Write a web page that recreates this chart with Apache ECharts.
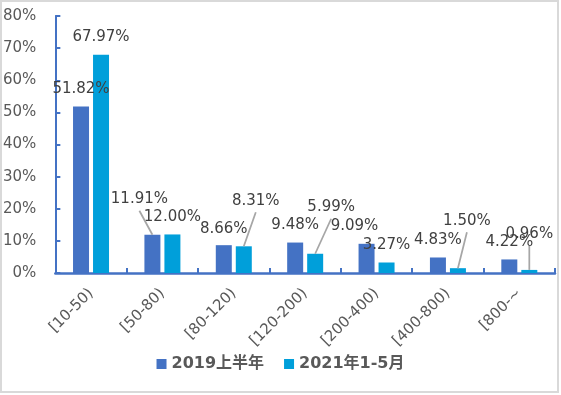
<!DOCTYPE html>
<html>
<head>
<meta charset="utf-8">
<script src="https://cdn.jsdelivr.net/npm/echarts@6/dist/echarts.min.js"></script>
<style>
html,body{margin:0;padding:0;background:#fff;}
#c{width:561px;height:395px;}
</style>
</head>
<body>
<div id="c"></div>
<script>
var categories = ['[10-50)', '[50-80)', '[80-120)', '[120-200)', '[200-400)', '[400-800)', '[800-~'];
var seriesNames = ['2019上半年', '2021年1-5月'];
var values2019 = [51.82, 11.91, 8.66, 9.48, 9.09, 4.83, 4.22];
var values2021 = [67.97, 12.00, 8.31, 5.99, 3.27, 1.50, 0.96];
var yTicks = {min: 0, max: 80, interval: 10};

// label nudges (pixels) [dx, dy] per data index, and which labels get a leader line
var labelMove = [
  [[0,0],[-13,-18],[0,1],[0,0],[-12,0],[0,0],[0,0]],
  [[0,0],[0,0],[12,-28],[16,-29],[0,0],[9,-30],[0,-18]]
];
var leader = [
  [false,true,false,false,false,false,false],
  [false,false,true,true,false,true,true]
];

var FONT = 'DejaVu Sans, Noto Sans CJK SC, sans-serif';
var colors = ['#4472C4', '#009FDA'];
var BAR_W = 16, BAR_GAP = 4, LABEL_DIST = 10;

function mkSeries(si, vals) {
  return {
    name: seriesNames[si],
    type: 'bar',
    barWidth: BAR_W,
    barGap: (BAR_GAP / BAR_W * 100) + '%',
    itemStyle: {color: colors[si]},
    data: vals,
    z: 2,
    label: {
      show: true,
      position: 'top',
      distance: LABEL_DIST,
      color: '#404040',
      fontSize: 15,
      fontFamily: FONT,
      formatter: function (p) { return p.value.toFixed(2) + '%'; }
    },
    labelLayout: function (p) {
      var m = labelMove[si][p.dataIndex];
      return {dx: m[0], dy: m[1]};
    }
  };
}

// leader line data: derived from values + label nudges
var leaderData = [];
[values2019, values2021].forEach(function (vals, si) {
  vals.forEach(function (v, i) {
    if (leader[si][i]) leaderData.push([i, v, si, labelMove[si][i][0], labelMove[si][i][1]]);
  });
});

var chart = echarts.init(document.getElementById('c'));
chart.setOption({
  animation: false,
  color: colors,
  grid: {left: 55, right: 6, top: 16, bottom: 122, containLabel: false},
  graphic: [{
    type: 'rect', silent: true,
    shape: {x: 1, y: 1, width: 557, height: 391},
    style: {fill: 'none', stroke: '#D9D9D9', lineWidth: 2}
  }],
  legend: {
    bottom: 18,
    left: 'center',
    itemWidth: 10,
    itemHeight: 10,
    itemGap: 20,
    icon: 'rect',
    textStyle: {color: '#595959', fontSize: 16, fontWeight: 'bold', fontFamily: FONT},
    data: seriesNames
  },
  xAxis: {
    type: 'category',
    data: categories,
    boundaryGap: true,
    axisLine: {lineStyle: {color: '#4472C4', width: 2.5}},
    axisTick: {show: true, inside: true, length: 5, lineStyle: {color: '#4472C4', width: 2}},
    axisLabel: {rotate: 45, margin: 18, color: '#595959', fontSize: 15, fontFamily: FONT, interval: 0},
    splitLine: {show: false}
  },
  yAxis: {
    type: 'value',
    min: yTicks.min, max: yTicks.max, interval: yTicks.interval,
    axisLine: {show: true, lineStyle: {color: '#4472C4', width: 2}},
    axisTick: {show: true, inside: true, length: 5, lineStyle: {color: '#4472C4', width: 2}},
    axisLabel: {formatter: '{value}%', color: '#595959', fontSize: 15, fontFamily: FONT, margin: 19},
    splitLine: {show: false}
  },
  series: [
    mkSeries(0, values2019),
    mkSeries(1, values2021),
    {
      type: 'custom',
      silent: true,
      z: 3,
      data: leaderData,
      encode: {x: 0, y: 1},
      renderItem: function (params, api) {
        var p = api.coord([api.value(0), api.value(1)]);
        var si = api.value(2);
        var off = (si === 0 ? -1 : 1) * (BAR_W + BAR_GAP) / 2;
        var x1 = p[0] + off, y1 = p[1];
        var x0 = x1 + api.value(3), y0 = y1 - LABEL_DIST + api.value(4) + 4;
        return {
          type: 'line',
          shape: {x1: x0, y1: y0, x2: x1, y2: y1},
          style: {stroke: '#A6A6A6', lineWidth: 1.75}
        };
      }
    }
  ]
});
</script>
</body>
</html>
